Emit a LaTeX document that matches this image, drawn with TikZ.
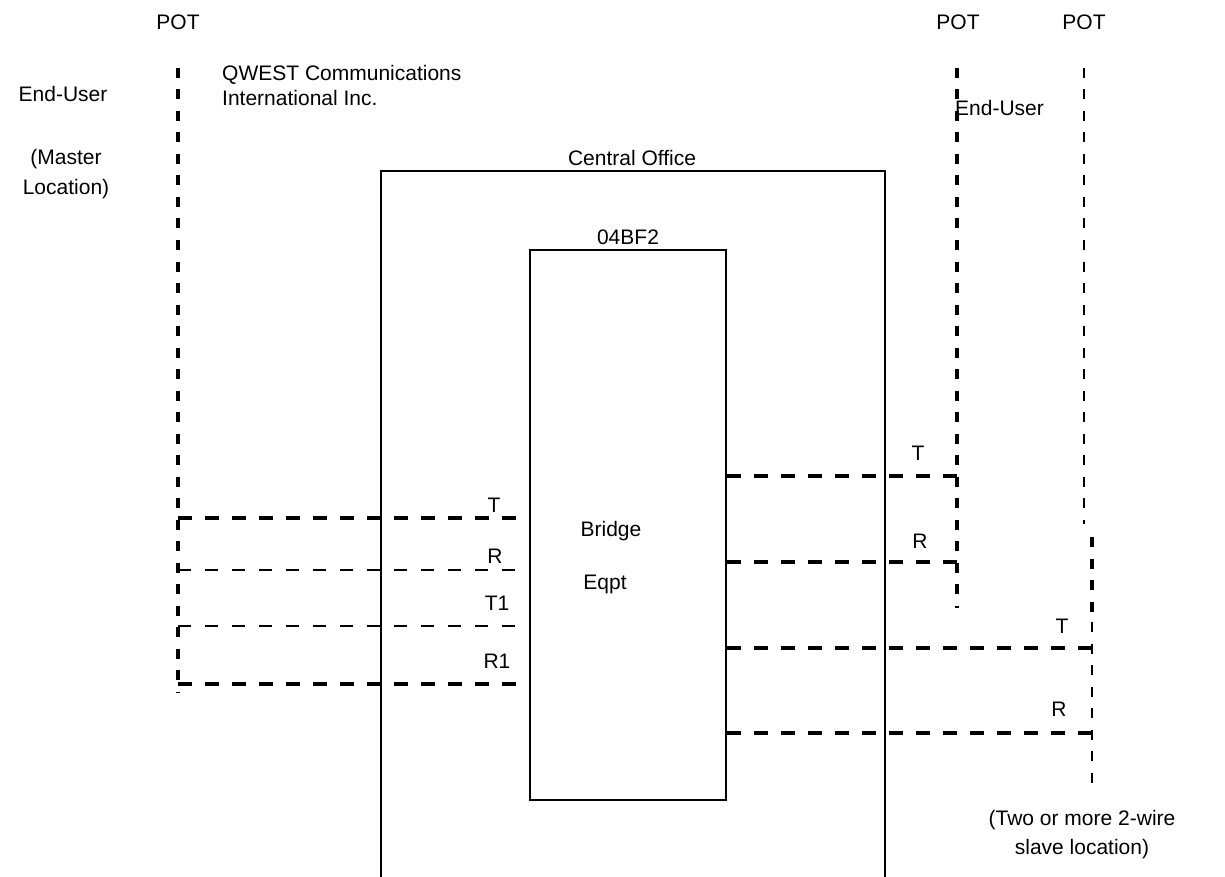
\documentclass[tikz,border=0pt]{standalone}
\usepackage{fontspec}
\setmainfont{Liberation Sans}
\begin{document}
\begin{tikzpicture}[x=1pt,y=-1pt,
  lbl/.style={font=\fontsize{21}{25}\selectfont, inner sep=0pt, align=center},
  thickdash/.style={line width=3.8pt, dash pattern=on 14pt off 13pt},
  vdash/.style={line width=3.8pt, dash pattern=on 10pt off 11.5pt},
  thindash/.style={line width=1.8pt, dash pattern=on 13pt off 14pt},
  boxline/.style={line width=2.6pt}]
\useasboundingbox (0,0) rectangle (1225,877);
% labels
\node[lbl] (potL) at (178,22) {POT};
\node[lbl] (potM) at (958,22) {POT};
\node[lbl] (potR) at (1084,22) {POT};
\node[lbl] (euL) at (63,94) {End-User};
\node[lbl] (master) at (66,174) {(Master\\[5pt]Location)};
\node[lbl, anchor=west, align=left] (qwest) at (222,85) {QWEST Communications\\International Inc.};
\node[lbl, anchor=west] (euR) at (955,108) {End-User};
\node[lbl] (co) at (632,158) {Central Office};
\node[lbl] (bf) at (628,237) {04BF2};
\node[lbl] (bridge) at (611,531) {Bridge};
\node[lbl] (eqpt) at (605,584) {Eqpt};
\node[lbl] (lT) at (494,505) {T};
\node[lbl] (lR) at (495,556) {R};
\node[lbl] (lT1) at (497,603) {T1};
\node[lbl] (lR1) at (497,661) {R1};
\node[lbl] (rT) at (918,453) {T};
\node[lbl] (rR) at (920,541) {R};
\node[lbl] (rT2) at (1062,626) {T};
\node[lbl] (rR2) at (1059,709) {R};
\node[lbl] (slave) at (1082,835) {(Two or more 2-wire\\[4pt]slave location)};
% boxes
\coordinate (coBL) at (381,877);
\coordinate (coTL) at (381,171);
\coordinate (coTR) at (885,171);
\coordinate (coBR) at (885,877);
\draw[boxline] (coBL) -- (coTL) -- (coTR) -- (coBR);
\node[draw, boxline, minimum width=196pt, minimum height=550pt, inner sep=0pt] (eq) at (628,525) {};
% vertical POT lines
\coordinate (vL1) at (178,68); \coordinate (vL2) at (178,692);
\draw[vdash] (vL1) -- (vL2);
\coordinate (vM1) at (957,68); \coordinate (vM2) at (957,608);
\draw[vdash] (vM1) -- (vM2);
\coordinate (vR1) at (1084,68); \coordinate (vR2) at (1084,524);
\draw[vdash, line width=2.2pt] (vR1) -- (vR2);
\coordinate (vR3) at (1092,537); \coordinate (vR4) at (1092,622); \coordinate (vR5) at (1092,792);
\draw[vdash] (vR3) -- (vR4);
\draw[vdash, line width=2pt] (vR4) -- (vR5);
% left lines
\coordinate (aT) at (178,518); \coordinate (aR) at (178,570);
\coordinate (aT1) at (178,626); \coordinate (aR1) at (178,684);
\draw[thickdash] (aT) -- (eq.west |- aT);
\draw[thindash] (aR) -- (eq.west |- aR);
\draw[thindash] (aT1) -- (eq.west |- aT1);
\draw[thickdash] (aR1) -- (eq.west |- aR1);
% right lines
\coordinate (bT) at (957,476); \coordinate (bR) at (957,562);
\coordinate (cT) at (1092,648); \coordinate (cR) at (1092,733);
\draw[thickdash] (eq.east |- bT) -- (bT);
\draw[thickdash] (eq.east |- bR) -- (bR);
\draw[thickdash] (eq.east |- cT) -- (cT);
\draw[thickdash] (eq.east |- cR) -- (cR);
\end{tikzpicture}
\end{document}
